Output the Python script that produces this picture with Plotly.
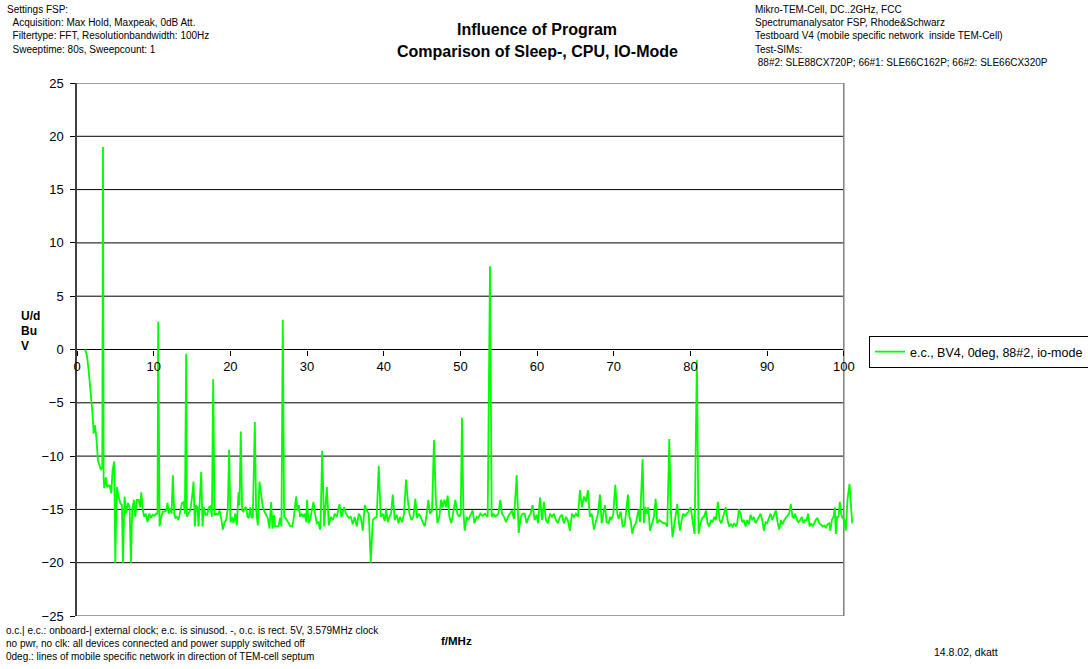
import plotly.graph_objects as go

# Spectrum trace: frequency (MHz) and level (dBuV)
freq_mhz = [
    1.08, 1.30, 1.51, 1.82, 2.00, 2.17, 2.34, 2.52, 2.73, 2.95,
    3.12, 3.30, 3.39, 3.47, 3.55, 3.77, 3.94, 4.25, 4.47, 4.64,
    4.86, 4.99, 5.20, 5.42, 5.64, 5.86, 5.99, 6.20, 6.42, 6.64,
    6.86, 7.03, 7.20, 7.42, 7.60, 7.81, 8.03, 8.25, 8.38, 8.59,
    8.77, 8.98, 9.20, 9.42, 9.64, 9.85, 10.10, 10.29, 10.50, 10.59,
    10.77, 10.98, 11.20, 11.42, 11.63, 11.81, 11.98, 12.16, 12.33, 12.50,
    12.68, 12.85, 13.02, 13.24, 13.46, 13.68, 13.89, 14.07, 14.24, 14.33,
    14.54, 14.76, 15.02, 15.20, 15.37, 15.54, 15.72, 15.85, 16.02, 16.20,
    16.37, 16.54, 16.76, 16.98, 17.20, 17.41, 17.59, 17.76, 17.93, 18.15,
    18.37, 18.58, 18.84, 19.02, 19.24, 19.45, 19.67, 19.84, 20.02, 20.19,
    20.41, 20.63, 20.84, 21.06, 21.19, 21.36, 21.54, 21.71, 21.89, 22.06,
    22.23, 22.41, 22.58, 22.76, 22.93, 23.19, 23.36, 23.58, 23.80, 24.02,
    24.23, 24.45, 24.67, 24.88, 25.10, 25.32, 25.49, 25.67, 25.84, 26.06,
    26.27, 26.49, 26.66, 26.84, 27.01, 27.19, 27.40, 27.62, 27.84, 28.06,
    28.23, 28.40, 28.58, 28.75, 28.92, 29.10, 29.27, 29.49, 29.70, 29.88,
    30.01, 30.18, 30.40, 30.62, 30.84, 31.05, 31.27, 31.49, 31.70, 31.79,
    31.97, 32.23, 32.58, 32.84, 33.10, 33.36, 33.62, 33.88, 34.23, 34.49,
    34.83, 35.09, 35.44, 35.70, 35.96, 36.22, 36.48, 36.75, 37.00, 37.27,
    37.53, 37.79, 38.05, 38.31, 38.57, 38.83, 39.09, 39.35, 39.61, 39.87,
    40.13, 40.31, 40.52, 40.74, 40.96, 41.18, 41.44, 41.70, 41.92, 42.13,
    42.39, 42.65, 42.91, 43.13, 43.35, 43.61, 43.87, 44.13, 44.35, 44.57,
    44.83, 45.09, 45.35, 45.61, 45.82, 46.04, 46.30, 46.56, 46.78, 47.00,
    47.26, 47.48, 47.69, 47.91, 48.13, 48.34, 48.56, 48.82, 49.08, 49.34,
    49.60, 49.86, 50.04, 50.21, 50.39, 50.56, 50.82, 51.04, 51.34, 51.60,
    51.82, 52.12, 52.34, 52.60, 52.86, 53.21, 53.56, 53.86, 54.08, 54.30,
    54.56, 54.95, 55.21, 55.42, 55.69, 55.95, 56.21, 56.47, 56.73, 56.99,
    57.34, 57.60, 57.86, 58.12, 58.38, 58.64, 58.90, 59.16, 59.42, 59.68,
    59.94, 60.12, 60.38, 60.64, 60.90, 61.16, 61.42, 61.68, 61.94, 62.20,
    62.46, 62.72, 62.98, 63.24, 63.50, 63.77, 64.03, 64.29, 64.55, 64.81,
    65.07, 65.33, 65.59, 65.85, 66.11, 66.37, 66.63, 66.89, 67.12, 67.42,
    67.68, 67.94, 68.20, 68.42, 68.64, 68.85, 69.07, 69.33, 69.51, 69.68,
    69.94, 70.20, 70.46, 70.64, 70.90, 71.16, 71.42, 71.68, 71.85, 72.03,
    72.20, 72.42, 72.63, 72.89, 73.07, 73.24, 73.42, 73.76, 73.94, 74.11,
    74.28, 74.50, 74.72, 74.98, 75.24, 75.46, 75.67, 75.94, 76.20, 76.46,
    76.72, 76.98, 77.24, 77.46, 77.67, 77.89, 78.11, 78.28, 78.46, 78.63,
    78.85, 79.06, 79.28, 79.50, 79.76, 80.02, 80.28, 80.54, 80.84, 81.06,
    81.32, 81.54, 81.76, 82.02, 82.23, 82.45, 82.67, 82.89, 83.10, 83.32,
    83.58, 83.80, 84.02, 84.28, 84.45, 84.62, 84.84, 85.06, 85.28, 85.49,
    85.71, 85.93, 86.10, 86.32, 86.54, 86.75, 86.97, 87.19, 87.40, 87.62,
    87.84, 88.06, 88.27, 88.49, 88.71, 88.92, 89.14, 89.36, 89.58, 89.79,
    90.01, 90.23, 90.45, 90.66, 90.88, 91.14, 91.36, 91.57, 91.79, 92.01,
    92.23, 92.44, 92.66, 92.88, 93.09, 93.31, 93.49, 93.66, 93.88, 94.09,
    94.31, 94.53, 94.75, 94.92, 95.14, 95.35, 95.53, 95.74, 95.92, 96.14,
    96.35, 96.57, 96.79, 97.00, 97.22, 97.44, 97.66, 97.87, 98.09, 98.26,
    98.44, 98.66, 98.83, 98.96, 99.13, 99.31, 99.48, 99.65, 99.83, 100.09,
    100.26, 100.48, 100.74, 101.10,
]

level_dbuv = [
    0.0, -0.6, -1.9, -4.1, -5.8, -7.9, -7.1, -8.2, -10.4, -10.9,
    -11.3, -11.0, 19.0, -12.0, -13.0, -12.0, -12.9, -12.7, -13.5, -11.3,
    -10.5, -20.0, -12.9, -13.8, -14.4, -14.6, -20.0, -13.8, -15.4, -14.4,
    -14.8, -20.0, -15.1, -14.1, -15.7, -14.1, -14.1, -14.8, -13.4, -15.1,
    -15.7, -15.4, -16.2, -15.4, -15.8, -15.5, -15.6, -15.4, -15.4, 2.6,
    -16.6, -15.7, -15.2, -15.2, -15.1, -14.4, -15.4, -14.9, -15.4, -11.8,
    -15.4, -15.8, -15.7, -16.0, -15.2, -14.4, -14.3, -15.4, -0.4, -15.7,
    -15.4, -15.1, -13.8, -12.4, -16.6, -14.6, -14.8, -16.6, -14.1, -11.5,
    -16.6, -14.8, -15.5, -15.5, -14.8, -14.7, -15.7, -2.8, -15.5, -15.4,
    -15.5, -15.1, -16.0, -16.9, -16.2, -16.0, -14.9, -9.4, -16.2, -15.7,
    -16.3, -15.4, -16.5, -13.4, -14.6, -7.7, -15.1, -15.2, -14.9, -14.8,
    -15.7, -15.8, -14.8, -15.8, -15.7, -6.8, -15.1, -16.5, -12.4, -13.8,
    -14.8, -15.2, -15.5, -15.8, -16.8, -14.3, -16.8, -15.5, -16.6, -16.6,
    -16.6, -15.8, -16.6, 2.8, -15.7, -15.8, -16.0, -16.3, -16.6, -16.6,
    -16.0, -14.6, -13.8, -15.1, -14.6, -15.7, -15.4, -15.7, -15.4, -16.2,
    -14.1, -16.3, -16.0, -15.1, -14.3, -15.4, -16.3, -16.2, -16.9, -15.7,
    -9.5, -16.6, -12.9, -16.5, -15.7, -16.0, -15.4, -15.7, -14.5, -15.7,
    -14.8, -15.4, -15.8, -15.7, -16.4, -15.7, -16.6, -15.4, -15.7, -17.0,
    -14.6, -15.1, -15.4, -20.0, -16.0, -15.8, -15.7, -10.9, -15.7, -15.4,
    -16.1, -14.9, -16.2, -15.7, -15.4, -13.6, -16.0, -15.5, -16.3, -15.7,
    -16.2, -15.4, -12.2, -14.0, -15.4, -16.0, -15.7, -14.0, -15.8, -15.4,
    -15.7, -16.2, -16.6, -15.4, -14.1, -15.4, -15.1, -8.5, -13.8, -16.3,
    -15.7, -14.1, -14.8, -14.1, -14.8, -13.7, -15.7, -16.3, -15.1, -14.1,
    -15.4, -15.7, -15.4, -6.4, -15.1, -17.0, -15.7, -16.0, -15.5, -15.1,
    -16.3, -15.7, -15.8, -15.4, -15.6, -15.4, -15.7, 7.8, -15.7, -15.4,
    -15.7, -15.4, -14.1, -15.4, -15.7, -16.2, -15.7, -15.4, -15.1, -15.9,
    -11.8, -17.2, -15.7, -15.4, -15.4, -16.3, -15.7, -15.4, -14.6, -16.0,
    -15.5, -16.3, -13.9, -16.0, -14.3, -16.0, -16.3, -15.4, -15.7, -15.4,
    -16.0, -16.3, -15.7, -15.5, -16.3, -15.7, -16.1, -17.0, -15.4, -15.7,
    -15.4, -15.7, -13.2, -14.8, -13.8, -14.3, -13.2, -15.7, -15.4, -16.9,
    -16.2, -15.4, -13.6, -16.3, -15.4, -14.6, -16.2, -16.3, -15.7, -16.0,
    -15.4, -12.7, -15.4, -15.9, -15.2, -16.6, -16.5, -14.8, -13.6, -15.7,
    -16.0, -17.3, -16.6, -16.3, -15.7, -15.0, -16.2, -10.3, -16.3, -14.8,
    -15.4, -14.8, -17.0, -16.3, -15.7, -14.0, -16.3, -16.0, -16.2, -16.3,
    -16.3, -16.6, -8.4, -15.4, -17.6, -16.6, -15.7, -14.5, -16.0, -17.0,
    -16.0, -15.4, -15.6, -15.4, -15.2, -14.8, -16.0, -17.3, -1.0, -17.3,
    -16.3, -15.8, -15.7, -15.1, -16.3, -16.6, -16.0, -16.2, -15.7, -16.0,
    -14.3, -16.0, -16.3, -15.7, -15.4, -14.8, -16.0, -16.6, -16.4, -16.6,
    -16.3, -16.6, -16.3, -15.0, -15.4, -16.2, -16.0, -16.6, -16.0, -16.4,
    -15.5, -16.0, -15.7, -16.3, -16.0, -15.7, -15.4, -16.0, -17.0, -16.2,
    -16.3, -15.8, -15.4, -16.0, -15.5, -15.1, -16.2, -16.9, -16.0, -16.4,
    -16.0, -15.8, -15.7, -15.4, -14.5, -15.7, -15.8, -15.4, -16.0, -16.2,
    -16.0, -15.7, -16.3, -16.0, -16.0, -15.4, -16.6, -16.3, -16.6, -16.2,
    -16.0, -15.8, -16.3, -16.4, -16.6, -16.5, -16.7, -16.4, -16.3, -17.0,
    -16.0, -15.7, -14.8, -17.3, -15.7, -15.7, -14.3, -15.4, -15.8, -16.0,
    -17.0, -14.1, -12.6, -16.3,
]

series_name = "e.c., BV4, 0deg, 88#2, io-mode"
x_ticks = [0, 10, 20, 30, 40, 50, 60, 70, 80, 90, 100]
y_ticks = [-25, -20, -15, -10, -5, 0, 5, 10, 15, 20, 25]

W, H = 1088, 669
PL, PR, PT, PB = 77, 853, 83, 616  # plot area in page pixels
FONT = "Arial, Liberation Sans, sans-serif"


def px_x(x):
    return (x - PL) / (PR - PL)


def px_y(y):
    return (PB - y) / (PB - PT)


fig = go.Figure()
fig.add_trace(go.Scatter(
    x=freq_mhz, y=level_dbuv, mode="lines", name=series_name,
    line=dict(color="#00ff00", width=1.8),
))

# grid lines, frame and the zero axis line (drawn up to 100 MHz)
shapes = []
for yv in y_ticks:
    if yv in (-25, 25):
        col, w = "#808080", 1.5
    else:
        col, w = "#000000", 1
    shapes.append(dict(type="line", xref="x", yref="y", x0=0, x1=100, y0=yv, y1=yv,
                       line=dict(color=col, width=w), layer="below"))
shapes.append(dict(type="line", xref="x", yref="y", x0=100, x1=100, y0=-25, y1=25,
                   line=dict(color="#808080", width=1.5), layer="below"))
fig.update_layout(shapes=shapes)

annotations = []


def note(text, x, y, size, xanchor="left", bold=False):
    if bold:
        text = "<b>" + text + "</b>"
    annotations.append(dict(text=text, x=px_x(x), y=px_y(y), xref="paper", yref="paper",
                            xanchor=xanchor, yanchor="middle", showarrow=False,
                            font=dict(family=FONT, size=size, color="black")))


note("Influence of Program", 537, 29, 16, "center", True)
note("Comparison of Sleep-, CPU, IO-Mode", 537, 51, 16, "center", True)

left_hdr = ["Settings FSP:",
            "  Acquisition: Max Hold, Maxpeak, 0dB Att.",
            "  Filtertype: FFT, Resolutionbandwidth: 100Hz",
            "  Sweeptime: 80s, Sweepcount: 1"]
for i, t in enumerate(left_hdr):
    note(t.replace("  ", "&nbsp;&nbsp;"), 5, 9 + 13.4 * i, 10)

right_hdr = ["Mikro-TEM-Cell, DC..2GHz, FCC",
             "Spectrumanalysator FSP, Rhode&amp;Schwarz",
             "Testboard V4 (mobile specific network  inside TEM-Cell)",
             "Test-SIMs:",
             " 88#2: SLE88CX720P; 66#1: SLE66C162P; 66#2: SLE66CX320P"]
for i, t in enumerate(right_hdr):
    note(t.replace(" ", "&nbsp;") if t.startswith(" ") else t, 753, 9 + 13.4 * i, 10)

foot = ["o.c.| e.c.: onboard-| external clock; e.c. is sinusod. -, o.c. is rect. 5V, 3.579MHz clock",
        "no pwr, no clk: all devices connected and power supply switched off",
        "0deg.: lines of mobile specific network in direction of TEM-cell septum"]
for i, t in enumerate(foot):
    note(t, 4, 630 + 13.4 * i, 10)

note("f/MHz", 456, 641, 11.5, "center", True)
note("U/d", 19, 316, 12, "left", True)
note("Bu", 19, 331, 12, "left", True)
note("V", 19, 346, 12, "left", True)
note("14.8.02, dkatt", 932, 652, 10.5)

fig.update_layout(
    width=W, height=H,
    margin=dict(l=PL, r=W - PR, t=PT, b=H - PB, pad=0, autoexpand=False),
    paper_bgcolor="white", plot_bgcolor="white",
    font=dict(family=FONT, color="black"),
    annotations=annotations,
    showlegend=True,
    legend=dict(x=px_x(869), y=px_y(352), xanchor="left", yanchor="middle",
                bgcolor="white", bordercolor="black", borderwidth=1,
                font=dict(family=FONT, size=12.5, color="black"),
                itemwidth=30, tracegroupgap=0),
    xaxis=dict(range=[0, 101.2], tickvals=x_ticks, showgrid=False, zeroline=False,
               showline=False, anchor="free", position=0.5,
               ticks="outside", ticklen=5, tickcolor="black", tickwidth=1,
               tickfont=dict(family=FONT, size=13, color="black")),
    yaxis=dict(range=[-25, 25], tickvals=y_ticks, showgrid=False, zeroline=False,
               showline=True, linecolor="#404040", linewidth=1.5,
               ticks="outside", ticklen=5, tickcolor="black", tickwidth=1,
               ticklabelstandoff=4,
               tickfont=dict(family=FONT, size=13, color="black")),
)

fig.write_html("out.html")
